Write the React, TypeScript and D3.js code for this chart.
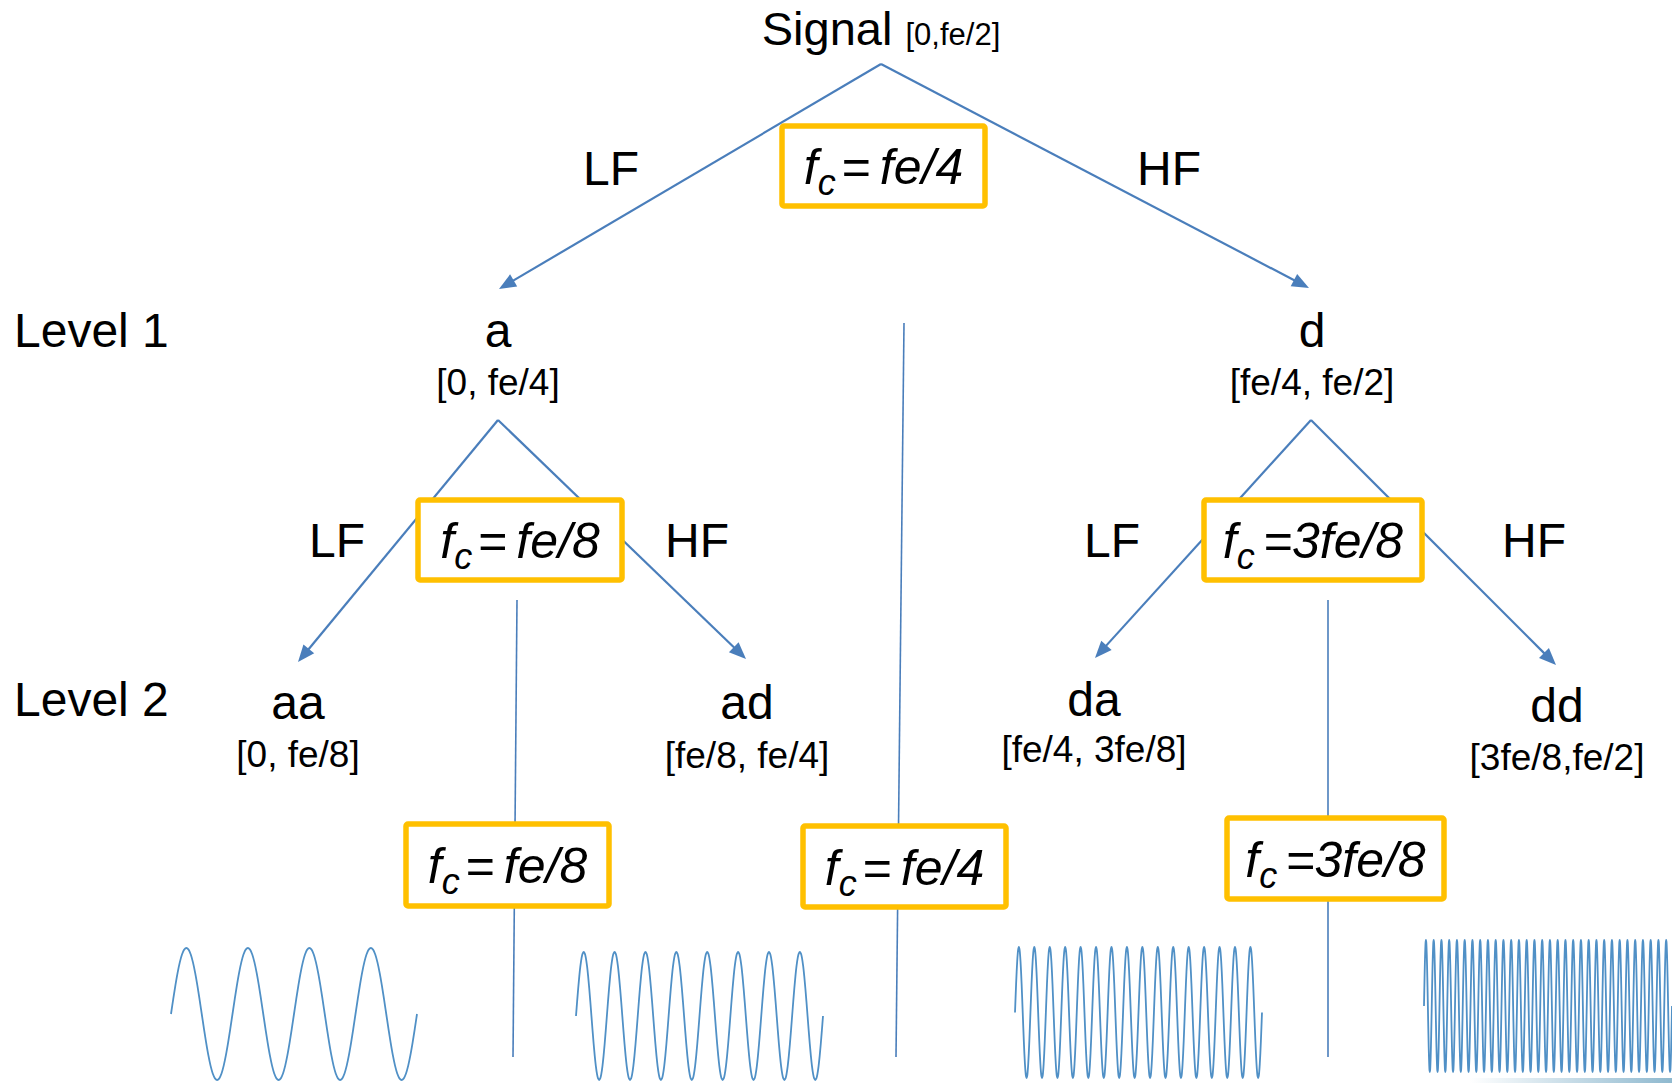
import React from 'react';
import * as d3 from 'd3';

// ---- data ----
const nodeNames = ['Signal', 'a', 'd', 'aa', 'ad', 'da', 'dd'];
const nodeRanges = ['[0,fe/2]', '[0, fe/4]', '[fe/4, fe/2]', '[0, fe/8]', '[fe/8, fe/4]', '[fe/4, 3fe/8]', '[3fe/8,fe/2]'];
const levelLabels = ['Level 1', 'Level 2'];
const branchLabels = ['LF', 'HF'];
const treeCutoffs = ['fe/4', 'fe/8', '3fe/8'];
const filterCutoffs = ['fe/8', 'fe/4', '3fe/8'];
const waveCycles = [4, 8, 16, 32];

// ---- layout (pixels) ----
const W = 1672;
const H = 1083;
const FONT = "'Liberation Sans', Arial, sans-serif";
const LINE = '#4a7ebb';
const WAVE = '#5090c6';
const GOLD = '#ffc000';

const nodePos = [[881, 45], [498, 347], [1312, 347], [298, 719], [747, 719], [1094, 716], [1557, 722]];
const rangeDy = [0, 48, 48, 48, 49, 46, 48];
const levelY = [347, 716];
const branchApex = [[881, 64], [498, 420], [1311, 420]];
const branchTips = [
  [[499, 289], [1309, 288]],
  [[298, 662], [746, 659]],
  [[1095, 658], [1556, 665]],
];
const branchLabelPos = [[611, 1169, 185], [337, 697, 557], [1112, 1534, 557]];
const treeBoxes = [[782, 126, 203, 80], [418, 500, 204, 80], [1204, 500, 218, 80]];
const filterBoxes = [[406, 824, 203, 82], [803, 826, 203, 81], [1227, 818, 217, 81]];
const filterLines = [[517, 600, 513, 1057], [904, 323, 896, 1057], [1328, 600, 1328, 1057]];
const waveBoxes = [[171, 417, 948, 1080], [576, 823, 952, 1080], [1015, 1262, 947, 1078], [1424, 1672, 940, 1072]];

const Arrow: React.FC<{ from: number[]; to: number[] }> = ({ from, to }) => {
  const dx = to[0] - from[0];
  const dy = to[1] - from[1];
  const len = Math.hypot(dx, dy);
  const ux = dx / len, uy = dy / len;
  const nx = -uy, ny = ux;
  const L = 17, hw = 7;
  const bx = to[0] - L * ux, by = to[1] - L * uy;
  const head = `M${to[0]},${to[1]}L${bx + hw * nx},${by + hw * ny}L${bx - hw * nx},${by - hw * ny}Z`;
  return (
    <g>
      <line x1={from[0]} y1={from[1]} x2={to[0] - (L - 3) * ux} y2={to[1] - (L - 3) * uy}
        stroke={LINE} strokeWidth={2.2} />
      <path d={head} fill={LINE} />
    </g>
  );
};

const CutoffBox: React.FC<{ box: number[]; value: string }> = ({ box, value }) => {
  const [x, y, w, h] = box;
  const tight = value.startsWith('3');
  return (
    <g>
      <rect x={x} y={y} width={w} height={h} rx={2} fill="#fff" stroke={GOLD} strokeWidth={5.5} />
      <text x={x + w / 2} y={y + h / 2 + 18} textAnchor="middle" fontStyle="italic"
        fontSize={50} fontFamily={FONT} fill="#000">
        <tspan>f</tspan>
        <tspan fontSize={36} dy={11}>c</tspan>
        <tspan dy={-11} dx={tight ? 9 : 6} fontStyle="normal">=</tspan>
        <tspan dx={tight ? -1 : 9}>{value}</tspan>
      </text>
    </g>
  );
};

const Wave: React.FC<{ cycles: number; box: number[] }> = ({ cycles, box }) => {
  const [x0, x1, top, bottom] = box;
  const x = d3.scaleLinear().domain([0, cycles]).range([x0, x1]);
  const y = d3.scaleLinear().domain([-1, 1]).range([bottom, top]);
  const perCycle = 28;
  const ts = d3.range(0, cycles * perCycle + 1).map(i => i / perCycle);
  const line = d3.line<number>()
    .x(t => x(t))
    .y(t => y(Math.sin(2 * Math.PI * t)))
    .curve(d3.curveCatmullRom);
  return <path d={line(ts) || ''} fill="none" stroke={WAVE} strokeWidth={1.8} />;
};

export default function App() {
  return (
    <svg width={W} height={H} viewBox={`0 0 ${W} ${H}`}
      style={{ position: 'fixed', left: 0, top: 0, background: '#fff', display: 'block' }}>
      <defs>
        <linearGradient id="swoosh" x1="0" x2="1" y1="0" y2="0">
          <stop offset="0" stopColor="#ffffff" />
          <stop offset="1" stopColor="#8fb9cf" />
        </linearGradient>
      </defs>

      {/* tree branches */}
      {branchApex.map((apex, i) => (
        <g key={`br${i}`}>
          <Arrow from={apex} to={branchTips[i][0]} />
          <Arrow from={apex} to={branchTips[i][1]} />
        </g>
      ))}

      {/* filter separator lines */}
      {filterLines.map((l, i) => (
        <line key={`fl${i}`} x1={l[0]} y1={l[1]} x2={l[2]} y2={l[3]} stroke={LINE} strokeWidth={1.6} />
      ))}

      {/* cutoff boxes */}
      {treeCutoffs.map((v, i) => <CutoffBox key={`tc${i}`} box={treeBoxes[i]} value={v} />)}
      {filterCutoffs.map((v, i) => <CutoffBox key={`fc${i}`} box={filterBoxes[i]} value={v} />)}

      {/* LF / HF labels */}
      {branchLabelPos.map((p, i) => (
        <g key={`bl${i}`} fontFamily={FONT} fontSize={48} fill="#000" textAnchor="middle">
          <text x={p[0]} y={p[2]}>{branchLabels[0]}</text>
          <text x={p[1]} y={p[2]}>{branchLabels[1]}</text>
        </g>
      ))}

      {/* level labels */}
      {levelLabels.map((t, i) => (
        <text key={`lv${i}`} x={14} y={levelY[i]} fontFamily={FONT} fontSize={48} fill="#000">{t}</text>
      ))}

      {/* root node */}
      <text x={nodePos[0][0]} y={nodePos[0][1]} textAnchor="middle" fontFamily={FONT} fill="#000">
        <tspan fontSize={47}>{nodeNames[0] + ' '}</tspan>
        <tspan fontSize={31}>{nodeRanges[0]}</tspan>
      </text>

      {/* sub-band nodes */}
      {nodeNames.slice(1).map((n, k) => {
        const i = k + 1;
        return (
          <g key={`nd${i}`} fontFamily={FONT} fill="#000" textAnchor="middle">
            <text x={nodePos[i][0]} y={nodePos[i][1]} fontSize={48}>{n}</text>
            <text x={nodePos[i][0]} y={nodePos[i][1] + rangeDy[i]} fontSize={37}>{nodeRanges[i]}</text>
          </g>
        );
      })}

      {/* example signals */}
      {waveCycles.map((c, i) => <Wave key={`wv${i}`} cycles={c} box={waveBoxes[i]} />)}

      <rect x={1470} y={1078} width={W - 1470} height={5} fill="url(#swoosh)" />
    </svg>
  );
}
